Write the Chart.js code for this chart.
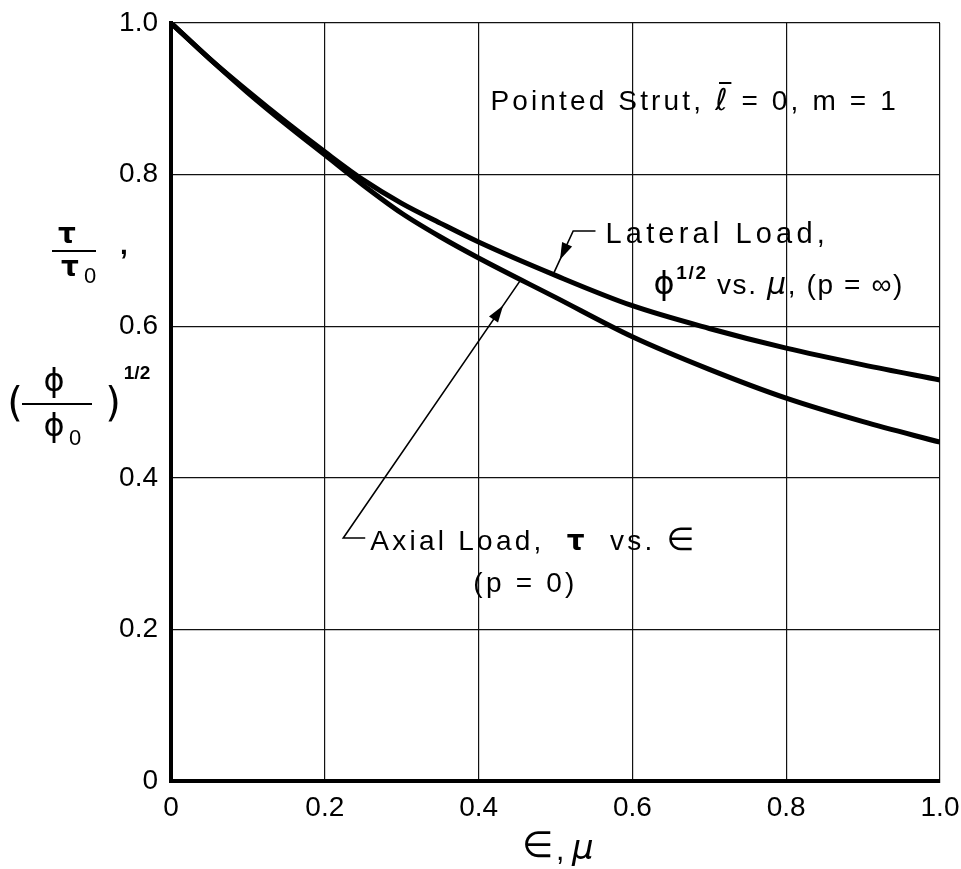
<!DOCTYPE html>
<html>
<head>
<meta charset="utf-8">
<script src="https://cdn.jsdelivr.net/npm/chart.js@4.4.1/dist/chart.umd.min.js"></script>
<style>
  html, body { margin: 0; padding: 0; background: #fff; }
  canvas { display: block; }
</style>
</head>
<body>
<canvas id="c" width="961" height="869"></canvas>
<script>
// Abscissa: epsilon (axial) and mu (lateral)
const xValues = [0, 0.05, 0.1, 0.15, 0.2, 0.25, 0.3, 0.35, 0.4, 0.5, 0.6, 0.7, 0.8, 0.9, 1.0];
// Lateral load, (phi/phi0)^1/2 vs mu, p = infinity
const lateralLoad = [1.0, 0.953, 0.910, 0.869, 0.830, 0.793, 0.762, 0.736, 0.711, 0.667, 0.627, 0.597, 0.571, 0.549, 0.529];
// Axial load, tau/tau0 vs epsilon, p = 0
const axialLoad = [1.0, 0.953, 0.908, 0.866, 0.826, 0.786, 0.749, 0.718, 0.690, 0.638, 0.586, 0.543, 0.505, 0.474, 0.447];
const tickLabels = ['0', '0.2', '0.4', '0.6', '0.8', '1.0'];

const FONT = '"Liberation Sans", Arial, sans-serif';
const SYM = '"DejaVu Sans", sans-serif';

function toPoints(ys) { return xValues.map((x, i) => ({ x, y: ys[i] })); }

// read a curve at x by linear interpolation of its points
function curveAt(ys, x) {
  for (let i = 1; i < xValues.length; i++) {
    if (x <= xValues[i]) {
      const t = (x - xValues[i - 1]) / (xValues[i] - xValues[i - 1]);
      return ys[i - 1] + t * (ys[i] - ys[i - 1]);
    }
  }
  return ys[ys.length - 1];
}

// a line of text made of runs, spread to a given width
function drawRun(ctx, parts, x, y, width) {
  let natural = 0, count = 0;
  parts.forEach(p => {
    ctx.font = p.font;
    ctx.letterSpacing = '0px';
    p.w = ctx.measureText(p.t).width;
    natural += p.w;
    count += [...p.t].length;
  });
  const sp = width ? (width - natural) / count : 0;
  let cx = x;
  parts.forEach(p => {
    ctx.font = p.font;
    ctx.letterSpacing = sp + 'px';
    ctx.fillText(p.t, cx, y + (p.dy || 0));
    if (p.over) {
      ctx.save();
      ctx.lineWidth = 2;
      ctx.beginPath();
      ctx.moveTo(cx + 4, y - 27);
      ctx.lineTo(cx + p.w + 4, y - 27);
      ctx.stroke();
      ctx.restore();
    }
    cx += p.w + sp * [...p.t].length;
  });
  ctx.letterSpacing = '0px';
}

function arrowHead(ctx, tx, ty, fx, fy, len, half) {
  const dx = tx - fx, dy = ty - fy, d = Math.hypot(dx, dy);
  const ux = dx / d, uy = dy / d;
  const bx = tx - ux * len, by = ty - uy * len;
  ctx.beginPath();
  ctx.moveTo(tx, ty);
  ctx.lineTo(bx - uy * half, by + ux * half);
  ctx.lineTo(bx + uy * half, by - ux * half);
  ctx.closePath();
  ctx.fill();
}

const annotations = {
  id: 'annotations',
  afterDraw(chart) {
    const ctx = chart.ctx, xs = chart.scales.x, ys = chart.scales.y;
    const X = v => xs.getPixelForValue(v), Y = v => ys.getPixelForValue(v);
    ctx.save();
    ctx.fillStyle = '#000';
    ctx.strokeStyle = '#000';
    ctx.textBaseline = 'alphabetic';
    ctx.textAlign = 'left';

    const f28 = '28px ' + FONT;
    drawRun(ctx, [
      { t: 'Pointed Strut, ', font: f28 },
      { t: 'ℓ', font: 'italic 30px ' + SYM, over: true },
      { t: ' = 0, m = 1', font: f28 }
    ], X(0.4154), Y(0.8852), X(0.9466) - X(0.4154));

    drawRun(ctx, [{ t: 'Lateral Load,', font: '29px ' + FONT }],
      X(0.5651), Y(0.7098), X(0.8555) - X(0.5651));

    drawRun(ctx, [
      { t: 'ϕ', font: '32px ' + SYM },
      { t: '1/2', font: 'bold 19px ' + FONT, dy: -15 },
      { t: ' vs. ', font: f28 },
      { t: 'μ', font: 'italic 30px ' + SYM },
      { t: ', (p = ∞)', font: f28 }
    ], X(0.6276), Y(0.6425), X(0.9531) - X(0.6276));

    drawRun(ctx, [
      { t: 'Axial Load,  ', font: f28 },
      { t: 'τ', font: 'bold 28px ' + SYM },
      { t: '  vs. ', font: f28 },
      { t: '∈', font: '32px ' + SYM }
    ], X(0.2591), Y(0.3047), X(0.6849) - X(0.2591));

    drawRun(ctx, [{ t: '(p = 0)', font: f28 }],
      X(0.3932), Y(0.2493), X(0.5286) - X(0.3932));

    // leader from "Lateral Load," to its curve
    ctx.lineWidth = 1.6;
    const lx = 0.497, ly = curveAt(lateralLoad, lx);
    const c1 = [X(0.523), Y(0.7256)];
    const e1 = [X(lx), Y(ly)];
    ctx.beginPath();
    ctx.moveTo(X(0.552), Y(0.7256));
    ctx.lineTo(c1[0], c1[1]);
    ctx.lineTo(e1[0], e1[1]);
    ctx.stroke();
    const t1 = 0.66;
    arrowHead(ctx, c1[0] + (e1[0] - c1[0]) * t1, c1[1] + (e1[1] - c1[1]) * t1, c1[0], c1[1], 17, 5.5);

    // leader from "Axial Load," to its curve
    const ax = 0.455, ay = curveAt(axialLoad, ax);
    const c2 = [X(0.224), Y(0.3206)];
    const e2 = [X(ax), Y(ay)];
    ctx.beginPath();
    ctx.moveTo(X(0.2526), Y(0.3206));
    ctx.lineTo(c2[0], c2[1]);
    ctx.lineTo(e2[0], e2[1]);
    ctx.stroke();
    const t2 = 0.9;
    arrowHead(ctx, c2[0] + (e2[0] - c2[0]) * t2, c2[1] + (e2[1] - c2[1]) * t2, c2[0], c2[1], 17, 5.5);

    // y-axis title: tau/tau0 , (phi/phi0)^1/2
    ctx.textAlign = 'center';
    ctx.textBaseline = 'middle';
    ctx.lineWidth = 2;
    ctx.font = 'bold 28px ' + SYM;
    ctx.fillText('τ', 67, 236);
    ctx.beginPath(); ctx.moveTo(52, 251); ctx.lineTo(96, 251); ctx.stroke();
    ctx.fillText('τ', 70, 269);
    ctx.font = '22px ' + FONT;
    ctx.fillText('0', 90, 277);
    ctx.font = 'bold 28px ' + FONT;
    ctx.fillText(',', 124, 246);

    ctx.font = '40px ' + SYM;
    ctx.fillText('(', 15, 406);
    ctx.fillText(')', 113, 406);
    ctx.font = '32px ' + SYM;
    ctx.fillText('ϕ', 54, 383);
    ctx.beginPath(); ctx.moveTo(22, 404); ctx.lineTo(92, 404); ctx.stroke();
    ctx.fillText('ϕ', 54, 428);
    ctx.font = '22px ' + FONT;
    ctx.fillText('0', 75, 439);
    ctx.font = 'bold 19px ' + FONT;
    ctx.fillText('1/2', 137, 374);

    // x-axis title: epsilon, mu
    ctx.textAlign = 'left';
    ctx.font = '36px ' + SYM;
    ctx.fillText('∈', 522, 848);
    ctx.font = '30px ' + FONT;
    ctx.fillText(',', 556, 852);
    ctx.font = 'italic 34px ' + SYM;
    ctx.fillText('μ', 572, 850);
    ctx.restore();
  }
};

const axisCommon = {
  type: 'linear',
  min: 0,
  max: 1,
  grid: { color: '#111', lineWidth: 1.2, drawTicks: false },
  border: { color: '#000', width: 4 },
  ticks: {
    stepSize: 0.2,
    color: '#000',
    font: { family: FONT, size: 28 },
    callback: (v, i) => tickLabels[i]
  }
};

new Chart(document.getElementById('c'), {
  type: 'line',
  data: {
    datasets: [
      {
        label: 'Lateral Load',
        data: toPoints(lateralLoad),
        borderColor: '#000',
        borderWidth: 5,
        pointRadius: 0,
        cubicInterpolationMode: 'monotone',
        fill: false
      },
      {
        label: 'Axial Load',
        data: toPoints(axialLoad),
        borderColor: '#000',
        borderWidth: 5,
        pointRadius: 0,
        cubicInterpolationMode: 'monotone',
        fill: false
      }
    ]
  },
  options: {
    responsive: false,
    animation: false,
    devicePixelRatio: 1,
    layout: { padding: { top: 23, right: 21, left: 0, bottom: 0 } },
    plugins: { legend: { display: false }, tooltip: { enabled: false } },
    scales: {
      x: Object.assign({}, axisCommon, {
        ticks: Object.assign({}, axisCommon.ticks, { padding: 10, maxRotation: 0 }),
        afterFit: s => { s.height = 88; s.paddingLeft = 0; s.paddingRight = 0; }
      }),
      y: Object.assign({}, axisCommon, {
        ticks: Object.assign({}, axisCommon.ticks, { padding: 13 }),
        afterFit: s => { s.width = 171; s.paddingTop = 0; s.paddingBottom = 0; }
      })
    }
  },
  plugins: [annotations]
});
</script>
</body>
</html>
